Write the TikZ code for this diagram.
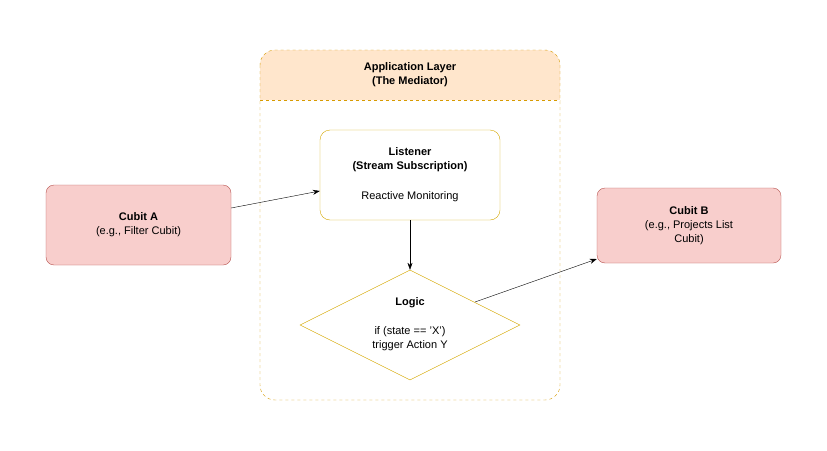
\documentclass[tikz,border=0pt]{standalone}
\usepackage{fontspec}
\setmainfont{Liberation Sans}
\usetikzlibrary{shapes.geometric,arrows.meta}
\definecolor{orng}{HTML}{D79B00}
\definecolor{ylw}{HTML}{D6A800}
\definecolor{hdr}{HTML}{FFE6CC}
\definecolor{rfill}{HTML}{F8CECC}
\definecolor{rdraw}{HTML}{B85450}
\begin{document}
\begin{tikzpicture}[x=1pt,y=-1pt,
  txt/.style={font=\fontsize{11}{14}\selectfont,align=center},
  cubit/.style={draw=rdraw,fill=rfill,rounded corners=8pt,txt},
  arr/.style={-{Stealth[length=7pt,width=5pt]},black}]
\useasboundingbox (0,0) rectangle (827,450);
\fill[white] (0,0) rectangle (827,450);
% container
\fill[hdr,rounded corners=15pt] (260,100) -- (260,50) -- (560,50) -- (560,100) -- cycle;
\fill[hdr] (260,80) rectangle (560,100);
\draw[orng,dashed,rounded corners=15pt] (260,50) rectangle (560,400);
\draw[orng,dashed] (260,100) -- (560,100);
\node[txt,font=\fontsize{11}{14}\selectfont\bfseries] (hdrt) at (410,75) {Application Layer\\(The Mediator)};
% listener
\node[draw=ylw,fill=white,rounded corners=10pt,minimum width=180pt,minimum height=90pt] (lis) at (410,175) {};
\node[txt,font=\fontsize{11}{14}\selectfont\bfseries] (lt) at (410,160) {Listener\\(Stream Subscription)};
\node[txt] (lr) at (410,197) {Reactive Monitoring};
% diamond
\node[draw=ylw,diamond,aspect=2,minimum width=220pt,minimum height=110pt,inner sep=0pt] (logic) at (410,325) {};
\node[txt,font=\fontsize{11}{14}\selectfont\bfseries] (lg) at (410,303) {Logic};
\node[txt] (lc) at (410,339) {if (state == 'X')\\trigger Action Y};
% cubits
\node[cubit,minimum width=185pt,minimum height=80pt] (a) at (138.5,225) {\textbf{Cubit A}\\(e.g., Filter Cubit)};
\node[cubit,minimum width=184pt,minimum height=75pt] (b) at (689,225.5) {\textbf{Cubit B}\\(e.g., Projects List\\Cubit)};
% arrows
\draw[arr] (a.east|-0,208) -- (lis.west|-0,191);
\draw[arr] (lis.south) -- (logic.north);
\draw[arr] (475,302) -- (b.west|-0,259);
\end{tikzpicture}
\end{document}
